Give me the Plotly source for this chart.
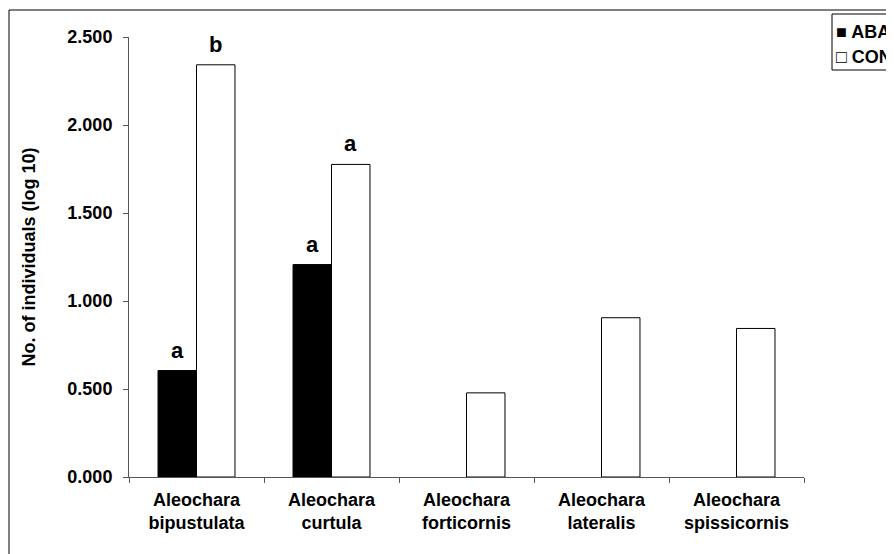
import plotly.graph_objects as go

categories = ["Aleochara<br>bipustulata", "Aleochara<br>curtula", "Aleochara<br>forticornis",
              "Aleochara<br>lateralis", "Aleochara<br>spissicornis"]
aba_values = [0.605, 1.207, 0.0, 0.0, 0.0]
con_values = [2.342, 1.776, 0.478, 0.905, 0.844]
aba_letters = ["a", "a", "", "", ""]
con_letters = ["b", "a", "", "", ""]
y_ticks = [0.0, 0.5, 1.0, 1.5, 2.0, 2.5]
legend_labels = ["■ ABA", "□ CON"]

FONT = "Arial, 'Liberation Sans', sans-serif"
FS = 18

# page has an 8px body margin; figure sized/offset to compensate
OFF = 8
W, H = 894, 546
L, R, T, B = 121, 98, 29, 77
pw, ph = W - L - R, H - T - B


def px_x(px):
    return (px - OFF - L) / pw


def px_y(py):
    return (H - B - (py - OFF)) / ph


fig = go.Figure()
fig.add_trace(go.Bar(name="ABA", x=categories, y=aba_values,
                     marker=dict(color="black",
                                 line=dict(color="black", width=[1 if v > 0 else 0 for v in aba_values])),
                     showlegend=False))
fig.add_trace(go.Bar(name="CON", x=categories, y=con_values,
                     marker=dict(color="white",
                                 line=dict(color="black", width=[1 if v > 0 else 0 for v in con_values])),
                     showlegend=False))

annotations = []
for vals, letters, shift in ((aba_values, aba_letters, -19.25), (con_values, con_letters, 19.25)):
    for cat, v, t in zip(categories, vals, letters):
        if t:
            annotations.append(dict(x=cat, y=v, text=t, xref="x", yref="y", showarrow=False,
                                    xshift=shift, yanchor="bottom", yshift=6,
                                    font=dict(family=FONT, size=22, color="black", weight="bold")))

for txt, yc in zip(legend_labels, [32, 57]):
    annotations.append(dict(x=px_x(834), y=px_y(yc), xref="paper", yref="paper", text=txt,
                            showarrow=False, xanchor="left", yanchor="middle",
                            font=dict(family=FONT, size=FS, color="black", weight="bold")))

shapes = [
    dict(type="rect", xref="paper", yref="paper", x0=px_x(9), x1=1.5, y0=-0.5, y1=px_y(10),
         line=dict(color="black", width=1), fillcolor="rgba(0,0,0,0)", layer="below"),
    dict(type="rect", xref="paper", yref="paper", x0=px_x(832), x1=1.5, y0=px_y(70), y1=px_y(14),
         line=dict(color="black", width=1), fillcolor="white", layer="below"),
]

fig.update_layout(
    width=W, height=H,
    margin=dict(l=L, r=R, t=T, b=B, autoexpand=False),
    paper_bgcolor="white", plot_bgcolor="white",
    barmode="group", bargap=0.43, bargroupgap=0,
    font=dict(family=FONT, size=FS, color="black"),
    annotations=annotations, shapes=shapes,
    xaxis=dict(showline=True, linecolor="#555", linewidth=1, ticks="outside", ticklen=5,
               tickcolor="#555", tickson="boundaries", showgrid=False, ticklabelstandoff=6,
               tickfont=dict(family=FONT, size=FS, color="black", weight="bold")),
    yaxis=dict(range=[0, 2.5], tickvals=y_ticks, tickformat=".3f", showline=True,
               linecolor="#555", linewidth=1, ticks="outside", ticklen=5, tickcolor="#555",
               showgrid=False, zeroline=False, ticklabelstandoff=7,
               tickfont=dict(family=FONT, size=FS, color="black", weight="bold"),
               title=dict(text="No. of individuals (log 10)", standoff=27,
                          font=dict(family=FONT, size=FS, color="black", weight="bold"))),
)

fig.write_html("out.html")
